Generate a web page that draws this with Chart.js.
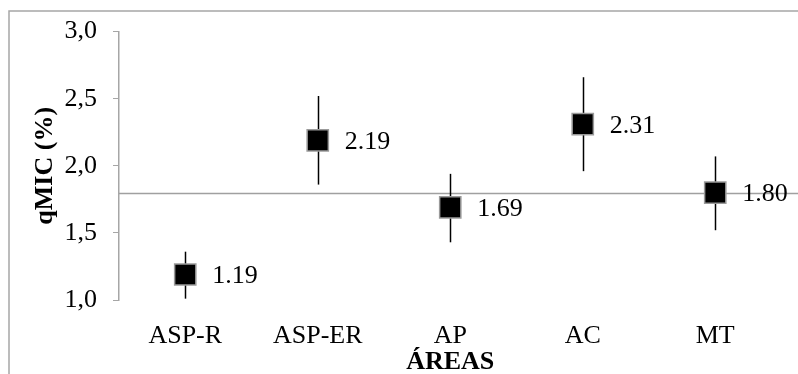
<!DOCTYPE html>
<html>
<head>
<meta charset="utf-8">
<script src="https://cdn.jsdelivr.net/npm/chart.js@4/dist/chart.umd.min.js"></script>
<style>
  html, body { margin: 0; padding: 0; background: #fff; }
  #wrap { width: 798px; height: 374px; position: relative; }
</style>
</head>
<body>
<div id="wrap"><canvas id="c"></canvas></div>
<script>
  // qMIC por área
  const areas = ['ASP-R', 'ASP-ER', 'AP', 'AC', 'MT'];
  const qmic = [1.19, 2.19, 1.69, 2.31, 1.80];
  const errUp = [0.17, 0.33, 0.25, 0.35, 0.27];
  const errDown = [0.18, 0.33, 0.26, 0.35, 0.28];
  const refValue = [1.80];

  const SERIF = "'Liberation Serif', 'Times New Roman', serif";
  const GRAY = '#a6a6a6';

  const decoPlugin = {
    id: 'deco',
    beforeDatasetsDraw(chart) {
      const { ctx, chartArea, scales } = chart;
      const y = scales.y;
      const x = scales.x;
      ctx.save();
      // border of the frame (left + top)
      ctx.strokeStyle = GRAY;
      ctx.lineWidth = 1.5;
      ctx.beginPath();
      ctx.moveTo(9, chart.height);
      ctx.lineTo(9, 11);
      ctx.lineTo(chart.width, 11);
      ctx.stroke();
      // reference line
      const ry = Math.round(y.getPixelForValue(refValue[0])) + 0.5;
      ctx.strokeStyle = '#a0a0a0';
      ctx.lineWidth = 1.5;
      ctx.beginPath();
      ctx.moveTo(chartArea.left, ry);
      ctx.lineTo(chart.width, ry);
      ctx.stroke();
      // error bars
      ctx.strokeStyle = '#000';
      ctx.lineWidth = 1.5;
      qmic.forEach((v, i) => {
        const px = Math.round(x.getPixelForValue(i)) + 0.5;
        ctx.beginPath();
        ctx.moveTo(px, y.getPixelForValue(v + errUp[i]));
        ctx.lineTo(px, y.getPixelForValue(v - errDown[i]));
        ctx.stroke();
      });
      ctx.restore();
    },
    afterDatasetsDraw(chart) {
      const { ctx, scales } = chart;
      ctx.save();
      ctx.fillStyle = '#000';
      ctx.font = '26px ' + SERIF;
      ctx.textAlign = 'left';
      ctx.textBaseline = 'middle';
      qmic.forEach((v, i) => {
        const px = scales.x.getPixelForValue(i);
        const py = scales.y.getPixelForValue(v);
        ctx.fillText(v.toFixed(2), px + 27, py + 2);
      });
      ctx.restore();
    },
  };

  new Chart(document.getElementById('c'), {
    type: 'line',
    data: {
      labels: areas,
      datasets: [{
        data: qmic,
        showLine: false,
        pointStyle: 'rect',
        pointRadius: 15,
        pointHoverRadius: 15,
        pointBackgroundColor: '#000',
        pointBorderColor: '#9a9a9a',
        pointBorderWidth: 1.5,
      }],
    },
    options: {
      responsive: true,
      maintainAspectRatio: false,
      animation: false,
      events: [],
      layout: { padding: { left: 30, right: 15, top: 30, bottom: -4 } },
      plugins: { legend: { display: false }, tooltip: { enabled: false } },
      scales: {
        x: {
          offset: true,
          afterFit: (s) => { s.height = 78; },
          grid: { display: false },
          border: { display: false },
          ticks: { color: '#000', font: { family: SERIF, size: 26 }, padding: 13 },
          title: {
            display: true, text: 'ÁREAS', color: '#000',
            font: { family: SERIF, size: 26, weight: 'bold' },
            padding: { top: 0, bottom: 0 },
          },
        },
        y: {
          min: 1,
          max: 3,
          afterFit: (s) => { s.width = 89; },
          grid: { drawOnChartArea: false, drawTicks: true, tickLength: 6, color: GRAY },
          border: { display: true, color: GRAY, width: 1.5 },
          ticks: {
            stepSize: 0.5,
            color: '#000',
            padding: 16,
            font: { family: SERIF, size: 26 },
            callback: (v) => Number(v).toFixed(1).replace('.', ','),
          },
          title: {
            display: true, text: 'qMIC (%)', color: '#000',
            font: { family: SERIF, size: 26, weight: 'bold' },
            padding: { top: 0, bottom: 0 },
          },
        },
      },
    },
    plugins: [decoPlugin],
  });
</script>
</body>
</html>
